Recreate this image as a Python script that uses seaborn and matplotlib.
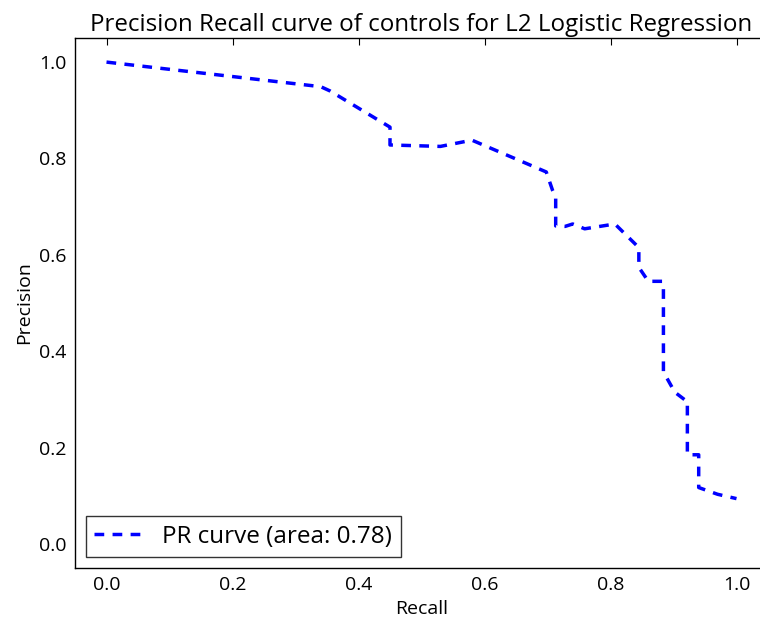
import matplotlib
matplotlib.use("Agg")
import matplotlib.pyplot as plt
import seaborn as sns
import pandas as pd

recall = [0.0, 0.34, 0.355, 0.45, 0.45, 0.53, 0.58, 0.698, 0.708, 0.713, 0.713,
          0.728, 0.74, 0.759, 0.807, 0.845, 0.845, 0.86, 0.882, 0.884, 0.884,
          0.902, 0.92, 0.922, 0.922, 0.94, 0.94, 0.97, 1.0]
precision = [1.0, 0.949, 0.94, 0.865, 0.828, 0.825, 0.838, 0.772, 0.734, 0.72, 0.66,
             0.659, 0.664, 0.654, 0.664, 0.615, 0.574, 0.545, 0.545, 0.541, 0.357,
             0.315, 0.297, 0.297, 0.185, 0.185, 0.117, 0.103, 0.094]
label = "PR curve (area: 0.78)"

sns.set_style("white")
plt.rcParams['font.family'] = ['Open Sans', 'DejaVu Sans']
plt.rcParams['lines.scale_dashes'] = False
plt.rcParams['text.color'] = 'black'
plt.rcParams['axes.labelcolor'] = 'black'
plt.rcParams['xtick.color'] = 'black'
plt.rcParams['ytick.color'] = 'black'
plt.rcParams['savefig.bbox'] = None

df = pd.DataFrame({"Recall": recall, "Precision": precision})

fig = plt.figure(figsize=(7.6, 6.21), dpi=100)
ax = fig.add_axes([75/760, 53/621, 693/760, 530/621])

sns.lineplot(data=df, x="Recall", y="Precision", sort=False, estimator=None,
             ax=ax, color="#0000ff", linewidth=2.5, label=label)
ax.lines[0].set_dashes((7, 6))

ax.set_xlim(-0.05, 1.05)
ax.set_ylim(-0.05, 1.05)
ax.set_xticks([0.0, 0.2, 0.4, 0.6, 0.8, 1.0])
ax.set_yticks([0.0, 0.2, 0.4, 0.6, 0.8, 1.0])
ax.set_xticklabels(["0.0", "0.2", "0.4", "0.6", "0.8", "1.0"])
ax.set_yticklabels(["0.0", "0.2", "0.4", "0.6", "0.8", "1.0"])
ax.tick_params(direction="in", length=5, width=0.8, top=True, right=True,
               labelsize=14, colors="black", pad=6)
for s in ax.spines.values():
    s.set_color("black")
    s.set_linewidth(1.0)
ax.spines['right'].set_visible(False)
ax.set_xlabel("Recall", fontsize=14, color="black")
ax.set_ylabel("Precision", fontsize=14, color="black")
ax.set_title("Precision Recall curve of controls for L2 Logistic Regression",
             fontsize=17.4, pad=5, color="black")

leg = ax.legend(loc="lower left", fontsize=17.5, fancybox=False, frameon=True,
                handlelength=2.0, borderaxespad=0.45, borderpad=0.35)
leg.get_frame().set_edgecolor("black")
leg.get_frame().set_linewidth(1.0)
leg.get_lines()[0].set_dashes((7, 6))
for t in leg.get_texts():
    t.set_color("black")

fig.savefig("out.png", dpi=100, facecolor="white", bbox_inches=None)
